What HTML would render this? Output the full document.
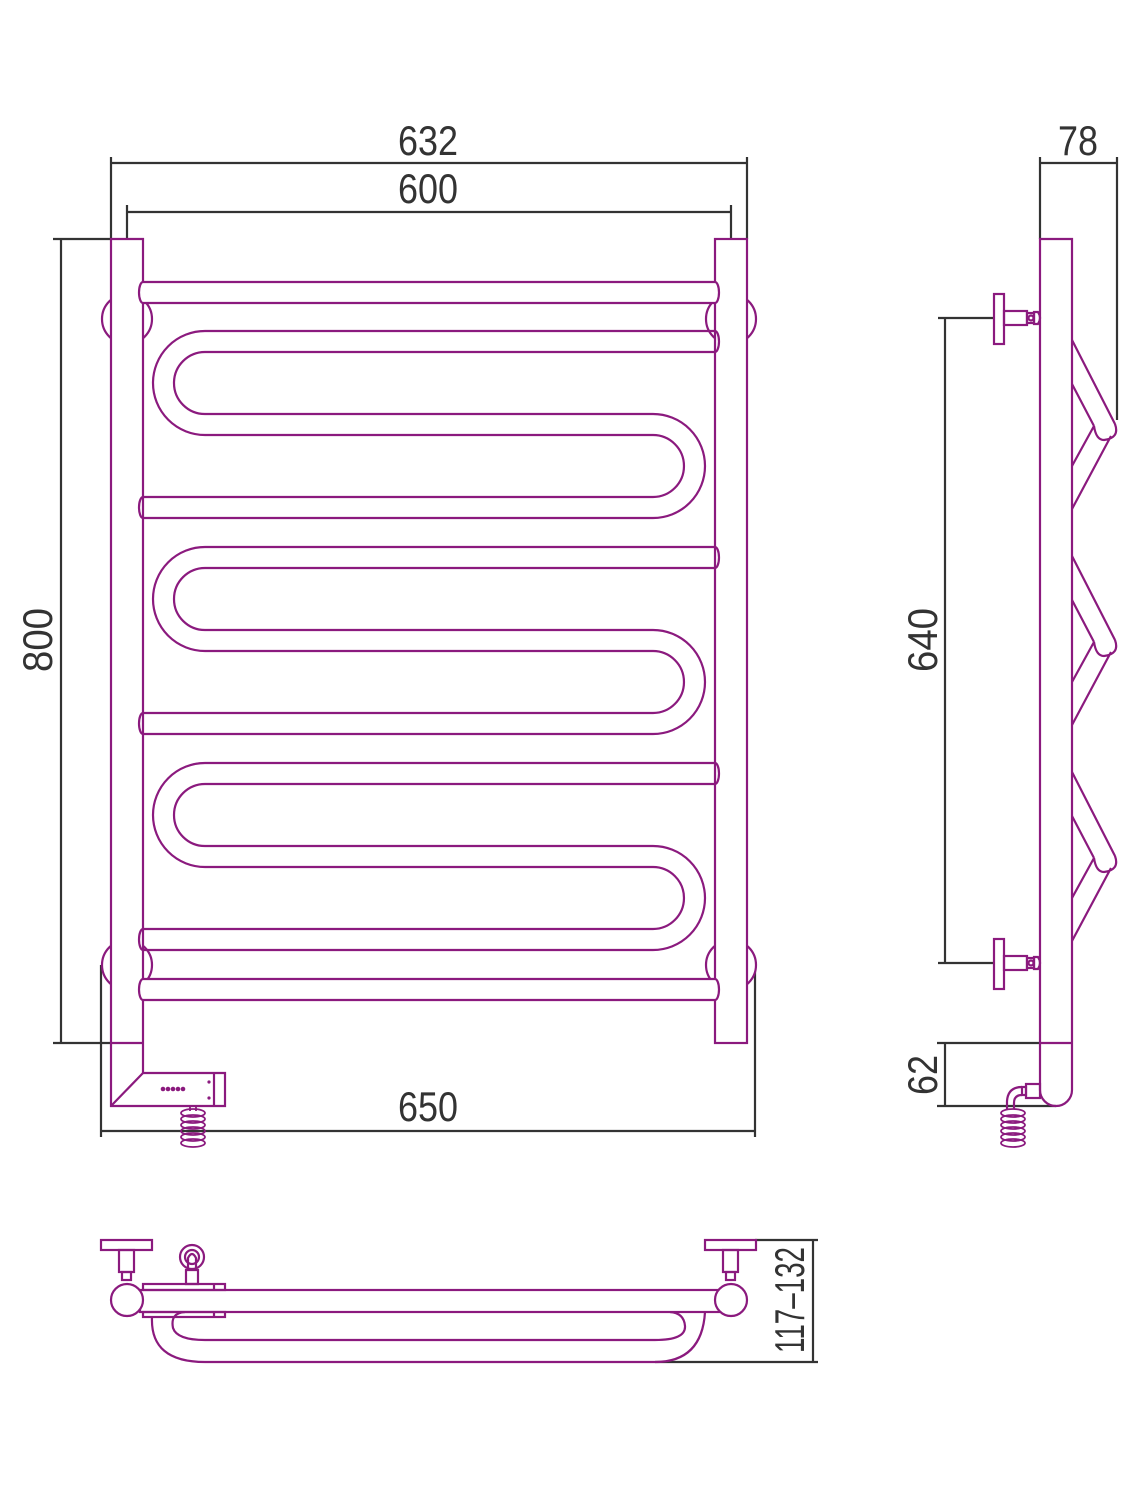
<!DOCTYPE html>
<html><head><meta charset="utf-8"><style>html,body{margin:0;padding:0;background:#fff}svg{display:block}</style></head>
<body>
<svg width="1138" height="1489" viewBox="0 0 1138 1489" xmlns="http://www.w3.org/2000/svg">
<defs>
<g id="zz">
<path d="M1072,0 L1115,84 M1072,44 L1094,86 M1115,84 Q1120,98 1104,100 Q1096,100 1094,86 M1094,86 L1072,126 M1111,96 L1072,169" fill="none"/>
</g>
<g id="br">
<rect x="994" y="-24" width="10" height="50"/>
<rect x="1004" y="-7" width="23" height="14"/>
<rect x="1027" y="-5" width="7" height="10"/>
<path d="M1034,-6 L1038,-6 Q1042,0 1038,6 L1034,6 Z"/>
<circle cx="1031" cy="0" r="2.5"/>
</g>
<g id="spring">
<ellipse cx="0" cy="0" rx="12" ry="4"/>
<ellipse cx="0" cy="6" rx="12" ry="4"/>
<ellipse cx="0" cy="12" rx="12" ry="4"/>
<ellipse cx="0" cy="18" rx="12" ry="4"/>
<ellipse cx="0" cy="24" rx="12" ry="4"/>
<ellipse cx="0" cy="30" rx="12" ry="4"/>
</g>
</defs>
<g fill="none" stroke="#333" stroke-width="2.2">
<path d="M111,157 V239 M747,157 V239 M111,163 H747"/>
<path d="M127,205 V239 M731,205 V239 M127,212 H731"/>
<path d="M53,239 H111 M53,1043 H111 M61,239 V1043"/>
<path d="M101,965 V1137 M755,965 V1137 M101,1131 H755"/>
<path d="M1040,157 V239 M1117,157 V420 M1040,163 H1117"/>
<path d="M938,318 H994 M938,963 H994 M945,318 V963"/>
<path d="M937,1043 H1040 M937,1106 H1056 M945,1043 V1106"/>
<path d="M755,1240 H818 M655,1362 H818 M813,1240 V1362"/>
</g>
<g font-family="'Liberation Sans Narrow','Liberation Sans',sans-serif" font-size="42" fill="#333">
<text x="398" y="155" textLength="60" lengthAdjust="spacingAndGlyphs">632</text>
<text x="398" y="203" textLength="60" lengthAdjust="spacingAndGlyphs">600</text>
<text x="398" y="1121" textLength="60" lengthAdjust="spacingAndGlyphs">650</text>
<text x="1058" y="155" textLength="40" lengthAdjust="spacingAndGlyphs">78</text>
<text transform="translate(52,672) rotate(-90)" textLength="64" lengthAdjust="spacingAndGlyphs">800</text>
<text transform="translate(937,672) rotate(-90)" textLength="64" lengthAdjust="spacingAndGlyphs">640</text>
<text transform="translate(937,1095) rotate(-90)" textLength="40" lengthAdjust="spacingAndGlyphs">62</text>
<text transform="translate(804,1353) rotate(-90)" textLength="106" lengthAdjust="spacingAndGlyphs">117–132</text>
</g>
<g fill="#fff" stroke="#8b1a7e" stroke-width="2.2">
<circle cx="127" cy="319" r="25"/><circle cx="731" cy="319" r="25"/>
<circle cx="127" cy="965" r="25"/><circle cx="731" cy="965" r="25"/>
<path d="M111,239 V1106 H225 V1073 H143 V239 Z"/>
<path d="M111,1043 H143" fill="none"/>
<path d="M111,1106 L143,1073" fill="none"/>
<path d="M214,1073 V1106" fill="none"/>
<rect x="715" y="239" width="32" height="804"/>
<path d="M143,282 H715 A4,10.5 0 0 1 715,303 H143 A4,10.5 0 0 1 143,282 Z"/>
<path d="M143,979 H715 A4,10.5 0 0 1 715,1000 H143 A4,10.5 0 0 1 143,979 Z"/>
</g>
<g fill="none" stroke="#8b1a7e" stroke-width="2.2">
<g id="loop">
<path d="M715,331 H205 A52,52 0 0 0 205,435 H653 A31,31 0 0 1 653,497 H143 A4,10.5 0 0 0 143,518 H653 A52,52 0 0 0 653,414 H205 A31,31 0 0 1 205,352 H715 A4,10.5 0 0 0 715,331"/>
</g>
<use href="#loop" y="216"/>
<use href="#loop" y="432"/>
<g fill="#8b1a7e" stroke="none">
<circle cx="163" cy="1089" r="2.3"/><circle cx="168" cy="1089" r="2.3"/><circle cx="173" cy="1089" r="2.3"/><circle cx="178" cy="1089" r="2.3"/><circle cx="183" cy="1089" r="2.3"/>
<circle cx="209" cy="1082" r="1.6"/><circle cx="209" cy="1098" r="1.6"/>
</g>
<path d="M190,1106 v5 M196,1106 v5" stroke-width="1.8"/>
<use href="#spring" x="193" y="1113" stroke-width="1.8"/>
<path d="M1040,239 H1072 V1090 A16,16 0 0 1 1040,1090 Z"/>
<path d="M1040,1043 H1072"/>
<use href="#zz" y="340"/><use href="#zz" y="556"/><use href="#zz" y="772"/>
<use href="#br" y="318"/><use href="#br" y="963"/>
<rect x="1026" y="1084" width="14" height="14"/>
<rect x="1022" y="1087" width="4" height="8"/>
<path d="M1022,1087 q-14,0 -15,14 v8 M1022,1095 q-8,0 -8,8 v6"/>
<use href="#spring" x="1013" y="1113" stroke-width="1.8"/>
<path d="M152,1317 Q150,1362 205,1362 H655 Q702,1362 705,1312"/>
<path d="M185,1312 Q170,1313 173,1328 Q177,1340 205,1340 H655 Q686,1340 685,1326 Q684,1313 670,1312"/>
<rect x="140" y="1290" width="580" height="22" fill="#fff"/>
<rect x="143" y="1284" width="82" height="6"/>
<rect x="143" y="1312" width="82" height="5"/>
<path d="M214,1284 V1290 M214,1312 V1317"/>
<circle cx="127" cy="1300" r="16" fill="#fff"/>
<circle cx="731" cy="1300" r="16" fill="#fff"/>
<rect x="101" y="1240" width="51" height="10"/>
<rect x="119" y="1250" width="15" height="22"/>
<rect x="122" y="1272" width="9" height="8"/>
<rect x="705" y="1240" width="51" height="10"/>
<rect x="723" y="1250" width="15" height="22"/>
<rect x="726" y="1272" width="9" height="8"/>
<circle cx="192" cy="1257" r="12"/>
<circle cx="192" cy="1257" r="7"/>
<path d="M188,1268 V1258 Q192,1250 196,1258 V1268"/>
<path d="M186,1270 H198 V1284 H186 Z"/>
</g>
</svg>
</body></html>
